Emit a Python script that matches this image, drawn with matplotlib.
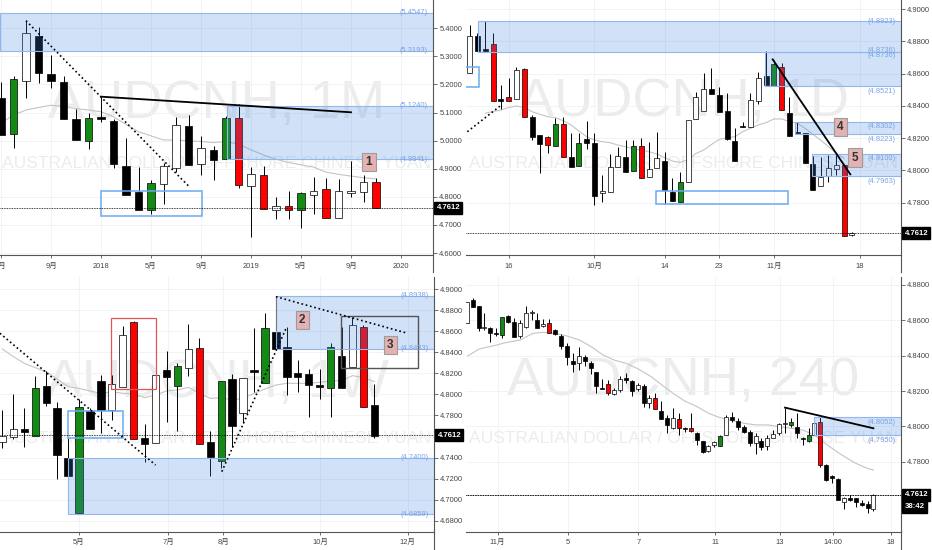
import numpy as np
import matplotlib
matplotlib.use("Agg")
from matplotlib import pyplot as plt
from matplotlib import transforms
from matplotlib.patches import Rectangle
from matplotlib.lines import Line2D

plt.rcParams['font.family'] = ['Liberation Sans', 'Noto Sans CJK SC']

LAST = 4.7612

# ---------------- AUDCNH 1M (months, 0 = Jan 2018) ----------------
p1_x = np.arange(-8, 23)
p1_open = [5.153, 5.023, 5.2135, 5.373, 5.237, 5.21, 5.076, 5.0, 5.0855, 5.071, 4.911, 4.8185, 4.7533, 4.846,
           4.904, 5.052, 4.917, 4.967, 4.934, 5.079, 4.839, 4.878, 4.753, 4.7676, 4.7533, 4.807, 4.827, 4.724,
           4.812, 4.8175, 4.854]
p1_high = [5.21, 5.229, 5.427, 5.404, 5.305, 5.23, 5.112, 5.1, 5.1566, 5.078, 5.011, 4.907, 4.86, 4.922,
           5.0855, 5.09, 5.017, 4.981, 5.088, 5.129, 4.907, 4.909, 4.8, 4.822, 4.818, 4.872, 4.866, 4.864,
           4.928, 4.878, 4.867]
p1_low = [5.02, 4.975, 5.153, 5.2065, 5.186, 5.076, 5.0025, 4.9705, 5.068, 4.902, 4.807, 4.7533, 4.738, 4.774,
          4.89, 4.9135, 4.878, 4.86, 4.934, 4.833, 4.658, 4.756, 4.7225, 4.7225, 4.69, 4.738, 4.7238, 4.724,
          4.8, 4.781, 4.7612]
p1_close = [5.02, 5.218, 5.382, 5.242, 5.211, 5.076, 5.0025, 5.082, 5.076, 4.916, 4.807, 4.7533, 4.848, 4.911,
            5.056, 4.9135, 4.973, 4.931, 5.079, 4.842, 4.8804, 4.756, 4.7676, 4.753, 4.813, 4.822, 4.7238, 4.822,
            4.821, 4.854, 4.7612]
p1_marked = [-7, -1, 4, 10, 11, 13, 15, 16, 18, 22]
p1_ma = [5.062, 5.091, 5.109, 5.118, 5.126, 5.121, 5.114, 5.109, 5.103, 5.085, 5.058, 5.032, 5.017, 5.0025,
         5.0025, 4.999, 4.997, 4.993, 4.997, 4.988, 4.967, 4.949, 4.934, 4.922, 4.914, 4.906, 4.888, 4.88,
         4.874, 4.868, 4.864]
p1_ticks = [-8, -4, 0, 4, 8, 12, 16, 20, 24]
p1_labels = ['5月', '9月', '2018', '5月', '9月', '2019', '5月', '9月', '2020']
p1_zones = [(5.3193, 5.4547), (4.9341, 5.1240)]

# ---------------- AUDCNH 1D (trading days, 0 = Sep 16) ----------------
p2_x = np.arange(-5, 45)
p2_open = [4.8601, 4.8833, 4.8748, 4.8781, 4.8437, 4.8453, 4.8442, 4.8626, 4.8333, 4.8219, 4.8209, 4.8153,
           4.8285, 4.8085, 4.8029, 4.8192, 4.8168, 4.7862, 4.7868, 4.8023, 4.8081, 4.7996, 4.8153, 4.7961,
           4.8013, 4.806, 4.7868, 4.7802, 4.7926, 4.8316, 4.8368, 4.8502, 4.8467, 4.837, 4.8182, 4.8272,
           4.8267, 4.8432, 4.8585, 4.8525, 4.8643, 4.8358, 4.8238, 4.823, 4.804, 4.7903, 4.7967, 4.8007,
           4.8033, 4.7598]
p2_high = [4.8901, 4.885, 4.8928, 4.885, 4.853, 4.857, 4.8643, 4.8632, 4.8343, 4.8219, 4.8212, 4.8327,
           4.8329, 4.8234, 4.823, 4.8308, 4.823, 4.7971, 4.8102, 4.8147, 4.8188, 4.8188, 4.8199, 4.8178,
           4.824, 4.8116, 4.7951, 4.7988, 4.8315, 4.8488, 4.8601, 4.8632, 4.8519, 4.8478, 4.8265, 4.8302,
           4.8478, 4.8612, 4.874, 4.8684, 4.8667, 4.8457, 4.8302, 4.8235, 4.8089, 4.8085, 4.8095, 4.8095,
           4.8039, 4.7616]
p2_low = [4.8601, 4.8742, 4.8736, 4.8432, 4.8378, 4.8428, 4.8442, 4.8333, 4.8188, 4.7986, 4.811, 4.8153,
          4.8081, 4.8023, 4.8029, 4.8131, 4.7786, 4.7806, 4.7868, 4.8023, 4.7992, 4.7996, 4.7951, 4.7961,
          4.8013, 4.7792, 4.781, 4.7802, 4.7926, 4.8316, 4.8368, 4.8473, 4.836, 4.8188, 4.8058, 4.8268,
          4.8267, 4.8411, 4.8529, 4.8525, 4.8374, 4.8215, 4.823, 4.8044, 4.7879, 4.7903, 4.793, 4.7972,
          4.7596, 4.7594]
p2_close = [4.8833, 4.8742, 4.8745, 4.8432, 4.8435, 4.8428, 4.8622, 4.8333, 4.8209, 4.8161, 4.8157, 4.8285,
            4.8081, 4.8023, 4.8168, 4.8168, 4.7841, 4.7872, 4.8023, 4.8091, 4.7992, 4.8153, 4.7951, 4.8007,
            4.8079, 4.7879, 4.781, 4.793, 4.8312, 4.8457, 4.8502, 4.8473, 4.836, 4.8192, 4.8058, 4.827,
            4.8436, 4.8575, 4.8529, 4.8657, 4.8374, 4.8215, 4.8235, 4.8044, 4.7879, 4.7961, 4.8017, 4.8033,
            4.7596, 4.7612]
p2_marked = [-2, 0, 2, 5, 6, 7, 9, 16, 17, 22, 34, 35, 43]
p2_ma_x = np.arange(-3, 44)
p2_ma = [4.8354, 4.8366, 4.8374, 4.8390, 4.8399, 4.8391, 4.8364, 4.8348, 4.8333, 4.8327, 4.8308, 4.8282,
         4.8244, 4.8209, 4.8188, 4.8178, 4.8172, 4.8157, 4.8147, 4.8133, 4.8126, 4.8116, 4.8102, 4.8079,
         4.8058, 4.8050, 4.8068, 4.8105, 4.8126, 4.8161, 4.8192, 4.8203, 4.8209, 4.8240, 4.8261, 4.8282,
         4.8296, 4.8319, 4.8319, 4.8302, 4.8292, 4.8261, 4.8224, 4.8188, 4.8147, 4.8106, 4.8075]
p2_ticks = [0, 11, 20, 27, 34, 45]
p2_labels = ['16', '10月', '14', '23', '11月', '18']
p2_zones = [(-3.93, 4.8736, 4.8923), (32.8, 4.8521, 4.8736), (36.75, 4.8223, 4.8302), (38.9, 4.7963, 4.8103)]

# ---------------- AUDCNH 1W (weeks, 0 = first week of May) ----------------
p3_x = np.arange(-7, 28)
p3_open = [4.7551, 4.7599, 4.7672, 4.7605, 4.8081, 4.7868, 4.7393, 4.687, 4.7843, 4.8131, 4.7852, 4.8068,
           4.8686, 4.7583, 4.7535, 4.8233, 4.8081, 4.8249, 4.8445, 4.7545, 4.737, 4.8144, 4.7827, 4.8225,
           4.8106, 4.8597, 4.8455, 4.8207, 4.8195, 4.8082, 4.8058, 4.8369, 4.8265, 4.8645, 4.79]
p3_high = [4.7852, 4.8005, 4.7868, 4.8176, 4.8223, 4.7932, 4.7583, 4.7957, 4.7868, 4.8185, 4.8185, 4.8651,
           4.8702, 4.7716, 4.8195, 4.8414, 4.8296, 4.8667, 4.854, 4.7653, 4.8128, 4.8192, 4.816, 4.8635,
           4.8772, 4.8597, 4.8645, 4.8328, 4.8239, 4.8239, 4.8486, 4.8645, 4.874, 4.8661, 4.81]
p3_low = [4.7488, 4.7577, 4.7504, 4.7605, 4.789, 4.7196, 4.7133, 4.687, 4.7672, 4.763, 4.7757, 4.8068,
          4.7577, 4.7355, 4.7535, 4.7735, 4.7656, 4.8176, 4.7529, 4.7225, 4.7304, 4.7504, 4.7726, 4.8027,
          4.8106, 4.8433, 4.7995, 4.8027, 4.7789, 4.7954, 4.7789, 4.8058, 4.8265, 4.7878, 4.7589]
p3_close = [4.7605, 4.7672, 4.7646, 4.8065, 4.7922, 4.7424, 4.7225, 4.7878, 4.7672, 4.7852, 4.81, 4.8566,
            4.7577, 4.7526, 4.8185, 4.8163, 4.8271, 4.8433, 4.7529, 4.7409, 4.8128, 4.77, 4.816, 4.8221,
            4.8629, 4.8433, 4.8163, 4.8169, 4.809, 4.808, 4.8455, 4.8058, 4.8661, 4.7878, 4.7608]
p3_marked = [-4, 0, 5, 9, 11, 13, 17, 23, 26]
p3_ma = [4.8433, 4.836, 4.8296, 4.8255, 4.8217, 4.8147, 4.8074, 4.8058, 4.8033, 4.8011, 4.8027, 4.8011,
         4.8005, 4.797, 4.7995, 4.8033, 4.8043, 4.8068, 4.8011, 4.7963, 4.797, 4.7948, 4.7963, 4.8011,
         4.8052, 4.809, 4.8106, 4.8106, 4.8106, 4.8116, 4.8128, 4.8131, 4.8179, 4.816, 4.8122]
p3_ticks = [0, 8.17, 13.2, 22.04, 30.03]
p3_labels = ['5月', '7月', '8月', '10月', '12月']
p3_zones = [(18.0, 4.8433, 4.8938), (-1.04, 4.6859, 4.7400)]

# ---------------- AUDCNH 240 (4h bars) ----------------
p4_x = np.arange(-1, 69)
p4_open = [4.8583, 4.8715, 4.8681, 4.8555, 4.8558, 4.8527, 4.8517, 4.8626, 4.8592, 4.8511, 4.8564, 4.864,
           4.8602, 4.8568, 4.8587, 4.8545, 4.8511, 4.8457, 4.837, 4.8357, 4.8394, 4.8357, 4.8306, 4.8216,
           4.8238, 4.8181, 4.8206, 4.8275, 4.8257, 4.8211, 4.823, 4.813, 4.8162, 4.8087, 4.8045, 4.7992,
           4.8042, 4.799, 4.7992, 4.796, 4.7917, 4.7862, 4.7894, 4.7889, 4.7951, 4.8051, 4.8032, 4.7998,
           4.7966, 4.7904, 4.7917, 4.7891, 4.7936, 4.796, 4.8013, 4.8008, 4.7998, 4.7933, 4.7919, 4.7951,
           4.8026, 4.7781, 4.7719, 4.7702, 4.7574, 4.7596, 4.7592, 4.7561, 4.756, 4.753]
p4_high = [4.8706, 4.8728, 4.8681, 4.864, 4.8564, 4.8555, 4.8621, 4.863, 4.8615, 4.8602, 4.8683, 4.8658,
           4.8643, 4.8606, 4.8606, 4.8551, 4.852, 4.847, 4.8417, 4.8451, 4.8404, 4.837, 4.831, 4.8268,
           4.8262, 4.8215, 4.8287, 4.83, 4.8262, 4.8243, 4.8238, 4.8177, 4.8187, 4.8143, 4.8064, 4.8106,
           4.8074, 4.7998, 4.8074, 4.797, 4.7917, 4.7894, 4.7919, 4.7951, 4.8064, 4.8083, 4.8045, 4.8008,
           4.7979, 4.796, 4.7932, 4.7951, 4.7979, 4.8021, 4.8106, 4.8049, 4.8074, 4.7938, 4.7989, 4.8049,
           4.8055, 4.7785, 4.7725, 4.7706, 4.7602, 4.7611, 4.7596, 4.7583, 4.7577, 4.7616]
p4_low = [4.8583, 4.8674, 4.854, 4.8545, 4.8479, 4.8511, 4.8498, 4.8583, 4.8508, 4.8502, 4.8558, 4.8602,
          4.8558, 4.8564, 4.8526, 4.8517, 4.8438, 4.8347, 4.8306, 4.8319, 4.8342, 4.8296, 4.8187, 4.8209,
          4.8177, 4.8177, 4.8196, 4.8243, 4.8174, 4.82, 4.8111, 4.8106, 4.8096, 4.8042, 4.796, 4.7985,
          4.7951, 4.797, 4.797, 4.7894, 4.7847, 4.7857, 4.7885, 4.7889, 4.7951, 4.8026, 4.7979, 4.796,
          4.7891, 4.7842, 4.7866, 4.7866, 4.7932, 4.7951, 4.796, 4.7998, 4.7936, 4.7894, 4.7913, 4.7951,
          4.7772, 4.769, 4.7677, 4.7583, 4.753, 4.7577, 4.7542, 4.755, 4.7511, 4.7521]
p4_close = [4.8706, 4.8674, 4.8555, 4.8564, 4.8526, 4.8525, 4.8621, 4.8592, 4.8508, 4.8583, 4.8643, 4.8649,
            4.8558, 4.8579, 4.8526, 4.8523, 4.8455, 4.8391, 4.8353, 4.8398, 4.837, 4.8332, 4.823, 4.8214,
            4.8187, 4.8206, 4.8268, 4.8262, 4.8202, 4.8234, 4.813, 4.8162, 4.8096, 4.8042, 4.8008, 4.8045,
            4.7989, 4.7988, 4.7974, 4.7923, 4.7857, 4.7891, 4.791, 4.7945, 4.8055, 4.8036, 4.7998, 4.797,
            4.7904, 4.7945, 4.7885, 4.7932, 4.7957, 4.8011, 4.8021, 4.8026, 4.7964, 4.7931, 4.7951, 4.8017,
            4.7781, 4.7696, 4.7709, 4.7583, 4.7596, 4.7583, 4.7574, 4.756, 4.7536, 4.7611]
p4_marked = [5, 13, 23, 31, 35, 37, 42, 54, 57, 59]
p4_ma_x = [-0.85, 1.1, 4.1, 5.1, 8.1, 10.2, 12.0, 14.0, 15.8, 18.1, 20.1, 22.1, 24.0, 26.0, 28.1, 30.3, 32.1,
           34.0, 36.0, 38.1, 40.0, 42.0, 44.1, 46.1, 48.1, 50.1, 52.0, 54.0, 56.0, 58.0, 59.0, 61.0, 63.1,
           65.0, 67.0, 68.0]
p4_ma = [4.8398, 4.8438, 4.846, 4.847, 4.8489, 4.8526, 4.8532, 4.8526, 4.8513, 4.8489, 4.8451, 4.8404,
         4.8375, 4.8357, 4.8325, 4.8281, 4.8234, 4.8187, 4.8143, 4.8111, 4.8074, 4.8049, 4.8032, 4.8017,
         4.8008, 4.8008, 4.7998, 4.7989, 4.7979, 4.7951, 4.7923, 4.7875, 4.7828, 4.7791, 4.7762, 4.7753]
p4_ticks = [4.24, 16.1, 28.1, 41.2, 52.1, 61.1, 71.0]
p4_labels = ['11月', '5', '7', '11', '13', '14:00', '18']
p4_zones = [(57.97, 4.7950, 4.8052)]

W, H = 932, 550
fig = plt.figure(figsize=(W / 100, H / 100), dpi=100)
fig.patch.set_facecolor('white')

ZONE_FACE = (0.25, 0.52, 0.89, 0.24)
ZONE_EDGE = '#93b6ee'
ZONE_TEXT = '#78a3e6'
AXIS_C = '#555555'


def make_panel(left, top, right, bottom, xlim, ylim, yticks, xticks, xlabels):
    ax = fig.add_axes([left / W, 1 - bottom / H, (right - left) / W, (bottom - top) / H])
    ax.set_xlim(*xlim)
    ax.set_ylim(*ylim)
    for s in ['top', 'left']:
        ax.spines[s].set_visible(False)
    for s in ['right', 'bottom']:
        ax.spines[s].set_color(AXIS_C)
        ax.spines[s].set_linewidth(0.8)
    ax.yaxis.tick_right()
    ax.set_yticks(yticks)
    ax.yaxis.set_major_formatter(plt.FormatStrFormatter('%.4f'))
    ax.set_xticks(xticks)
    ax.set_xticklabels(xlabels)
    ax.tick_params(axis='y', direction='out', length=3, width=0.6, color=AXIS_C,
                   labelsize=5.4, labelcolor='#444444', pad=1.5)
    ax.tick_params(axis='x', direction='out', length=2, width=0.6, color=AXIS_C,
                   labelsize=5.4, labelcolor='#444444', pad=3.5)
    ax.grid(color='#eef1f6', lw=0.6, zorder=0)
    ax.set_axisbelow(True)
    # right axis line carries on down to the panel edge
    ext = bottom + 17 if top == 0 else H
    fig.add_artist(Line2D([right / W] * 2, [1 - ext / H, 1 - bottom / H],
                          color=AXIS_C, lw=0.8, transform=fig.transFigure))
    return ax


def watermark(ax, name, y1, y2):
    ax.text(0.5, y1, name, transform=ax.transAxes, ha='center', va='center',
            fontsize=39, color='#ececec', zorder=0, clip_on=True)
    ax.text(0.5, y2, 'AUSTRALIAN DOLLAR / OFFSHORE CHINESE YUAN', transform=ax.transAxes,
            ha='center', va='center', fontsize=12.5, color='#ececec', zorder=0, clip_on=True)


def candles(ax, x, o, h, l, c, marked, width):
    o, h, l, c = map(np.asarray, (o, h, l, c))
    y0, y1 = ax.get_ylim()
    min_body = (y1 - y0) / ax.bbox.height * 1.4
    ax.vlines(x, l, h, color='black', lw=0.7, zorder=2)
    faces = []
    for xi, oi, ci in zip(x, o, c):
        if xi in marked:
            faces.append('#138a13' if ci >= oi else '#ff0000')
        else:
            faces.append('white' if ci >= oi else 'black')
    height = np.maximum(np.abs(c - o), min_body)
    bottom = np.minimum(o, c) - (height - np.abs(c - o)) / 2
    ax.bar(x, height, width, bottom, color=faces, edgecolor='black', lw=0.5, zorder=3)


def zone(ax, x0, lo, hi):
    xr = ax.get_xlim()[1]
    ax.add_patch(Rectangle((x0, lo), xr - x0, hi - lo, fc=ZONE_FACE, ec=ZONE_EDGE, lw=0.8, zorder=4))


def zone_label(ax, val, dy=0):
    trans = transforms.blended_transform_factory(ax.transAxes, ax.transData)
    ax.annotate('(%.4f)' % val, xy=(0.988, val), xycoords=trans, xytext=(0, dy),
                textcoords='offset points', ha='right', va='center', fontsize=5.4,
                color=ZONE_TEXT, zorder=6)


def outline(ax, x0, x1, lo, hi, color, lw=1.0):
    ax.add_patch(Rectangle((x0, lo), x1 - x0, hi - lo, fill=False, ec=color, lw=lw, zorder=5))


def note(ax, x, y, txt):
    ax.text(x, y, txt, ha='center', va='center', fontsize=8.5, weight='bold', color='#333333',
            bbox=dict(boxstyle='square,pad=0.28', fc='#e4b2b2', ec='#9c9c9c', lw=0.8), zorder=7)


def price_tag(ax, txt, dy=0):
    trans = transforms.blended_transform_factory(ax.transAxes, ax.transData)
    ax.axhline(LAST, color='black', ls=(0, (1, 1)), lw=0.6, zorder=5)
    ax.annotate(txt, xy=(1, LAST), xycoords=trans, xytext=(2.5, dy), textcoords='offset points',
                ha='left', va='center', fontsize=5.6, weight='bold', color='white',
                bbox=dict(boxstyle='square,pad=0.3', fc='black', ec='black'),
                annotation_clip=False, zorder=8)


# ---------------- top left: monthly ----------------
ax = make_panel(0, 0, 433, 255, (-8.08, 26.56), (4.593, 5.5007), np.arange(4.6, 5.41, 0.1), p1_ticks, p1_labels)
watermark(ax, 'AUDCNH, 1M', 0.592, 0.36)
ax.plot(p1_x, p1_ma, color='#c4c4c4', lw=0.8, zorder=1)
candles(ax, p1_x, p1_open, p1_high, p1_low, p1_close, p1_marked, 0.58)
zone(ax, -8.08, *p1_zones[0])
zone(ax, 10.05, *p1_zones[1])
for lo, hi in p1_zones:
    zone_label(ax, hi)
    zone_label(ax, lo)
outline(ax, 0, 8.05, 4.732, 4.822, '#6aaaf0', 1.1)
ax.plot([-6, 7.0], [5.427, 4.8386], color='black', ls=':', lw=1.2, zorder=5)
ax.plot([0, 20], [5.1566, 5.101], color='black', lw=1.3, zorder=5)
note(ax, 21.44, 4.924, '1')
price_tag(ax, '4.7612')

# ---------------- top right: daily ----------------
ax = make_panel(466, 0, 901, 255, (-5.47, 50.3), (4.7476, 4.9056), np.arange(4.78, 4.901, 0.02), p2_ticks, p2_labels)
watermark(ax, 'AUDCNH, 1D', 0.6, 0.36)
ax.plot(p2_ma_x, p2_ma, color='#c4c4c4', lw=0.8, zorder=1)
candles(ax, p2_x, p2_open, p2_high, p2_low, p2_close, p2_marked, 0.64)
for x0, lo, hi in p2_zones:
    zone(ax, x0, lo, hi)
zone_label(ax, 4.8923)
zone_label(ax, 4.8736, 1)
zone_label(ax, 4.8736, -2.5)
for v in [4.8521, 4.8302, 4.8223, 4.8103, 4.7963]:
    zone_label(ax, v, -3.5)
outline(ax, -7, -3.85, 4.8515, 4.8643, '#6aaaf0', 1.1)
outline(ax, 18.9, 35.8, 4.779, 4.7874, '#6aaaf0', 1.1)
ax.plot([-5.3, -0.94], [4.824, 4.8405], color='black', ls=':', lw=1.2, zorder=5)
ax.plot([33.85, 43.8], [4.8688, 4.7976], color='black', lw=1.3, zorder=5)
note(ax, 42.5, 4.8269, '4')
note(ax, 44.4, 4.8079, '5')
price_tag(ax, '4.7612')

# ---------------- bottom left: weekly ----------------
ax = make_panel(0, 277, 434, 531.7, (-7.22, 32.45), (4.6695, 4.9117), np.arange(4.68, 4.901, 0.02), p3_ticks, p3_labels)
watermark(ax, 'AUDCNH, 1W', 0.583, 0.365)
ax.plot(p3_x, p3_ma, color='#c4c4c4', lw=0.8, zorder=1)
candles(ax, p3_x, p3_open, p3_high, p3_low, p3_close, p3_marked, 0.67)
for x0, lo, hi in p3_zones:
    zone(ax, x0, lo, hi)
    zone_label(ax, hi)
    zone_label(ax, lo)
outline(ax, -1.04, 4.05, 4.7589, 4.7846, '#6aaaf0', 1.1)
outline(ax, 2.93, 7.0, 4.8049, 4.8724, '#e05555', 0.9)
outline(ax, 23.93, 31.0, 4.8255, 4.875, '#555555', 1.0)
ax.plot([18.0, 18.0], [4.893, 4.861], color='#777777', lw=0.8, zorder=5)
ax.plot([-7.23, 7.0], [4.8582, 4.7329], color='black', ls=':', lw=1.2, zorder=5)
ax.plot([13.05, 19.0], [4.7266, 4.8645], color='black', ls=':', lw=1.2, zorder=5)
ax.plot([18.0, 30.03], [4.893, 4.8582], color='black', ls=':', lw=1.2, zorder=5)
note(ax, 20.4, 4.8708, '2')
note(ax, 28.45, 4.847, '3')
price_tag(ax, '4.7612')

# ---------------- bottom right: 4h ----------------
ax = make_panel(466, 277, 901, 531.7, (-1.13, 72.68), (4.7404, 4.8845), np.arange(4.78, 4.881, 0.02), p4_ticks, p4_labels)
watermark(ax, 'AUDCNH, 240', 0.59, 0.365)
ax.plot(p4_ma_x, p4_ma, color='#c4c4c4', lw=0.8, zorder=1)
candles(ax, p4_x, p4_open, p4_high, p4_low, p4_close, p4_marked, 0.68)
for x0, lo, hi in p4_zones:
    zone(ax, x0, lo, hi)
    zone_label(ax, hi, -3.5)
    zone_label(ax, lo, -3.5)
ax.plot([53, 68], [4.8106, 4.7989], color='black', lw=1.3, zorder=5)
price_tag(ax, '4.7612')
price_tag(ax, '38:42', -8.5)

plt.savefig('out.png', dpi=100, facecolor='white')
